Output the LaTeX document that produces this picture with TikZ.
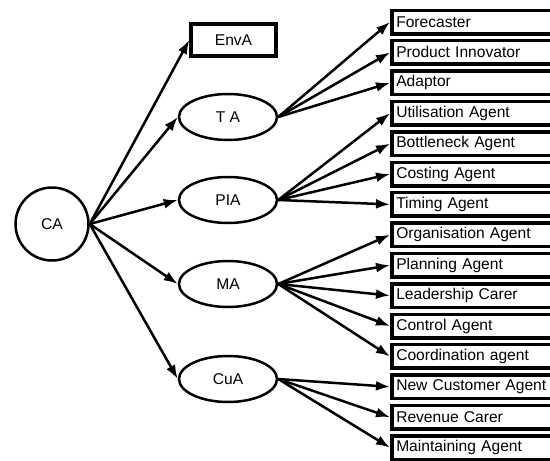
\documentclass[tikz,border=0pt]{standalone}
\usepackage{fontspec}
\setmainfont{Liberation Sans}
\usetikzlibrary{positioning, arrows, arrows.meta, shapes.geometric}

\begin{document}
\begin{tikzpicture}[x=1pt, y=-1pt, >={Latex[length=14pt,width=10pt]},
    every node/.style={font=\fontsize{15.6}{18}\selectfont},
    agent/.style={draw, ellipse, line width=2.5pt, minimum width=98pt,
        minimum height=46pt, inner sep=0pt},
    task/.style={draw, line width=3.5pt, text width=160pt, align=left,
        minimum height=23.5pt, inner xsep=4.5pt, inner ysep=2pt},
    link/.style={->, line width=2.5pt}]
\useasboundingbox (0,0) rectangle (550,461);
\clip (0,0) rectangle (550,461);

\node[circle, draw, line width=2.5pt, minimum size=73pt, inner sep=0pt] (ca) at (52,224) {CA};
\node[draw, line width=3.5pt, minimum width=85pt, minimum height=32pt] (enva) at (233.5,40) {EnvA};
\node[agent] (ta) at (228,117) {T A};
\node[agent] (pia) at (228,200) {PIA};
\node[agent] (ma) at (228,284) {MA};
\node[agent] (cua) at (228,379) {CuA};

\node[task, anchor=west] (fc) at (390,22) {Forecaster};
\node[task, below=3.4pt of fc] (pinn) {Product Innovator};
\node[task, below=3.4pt of pinn] (adp) {Adaptor};
\node[task, below=3.4pt of adp] (util) {Utilisation Agent};
\node[task, below=3.4pt of util] (bott) {Bottleneck Agent};
\node[task, below=3.4pt of bott] (cost) {Costing Agent};
\node[task, below=3.4pt of cost] (tim) {Timing Agent};
\node[task, below=3.4pt of tim] (org) {Organisation Agent};
\node[task, below=3.4pt of org] (plan) {Planning Agent};
\node[task, below=3.4pt of plan] (lead) {Leadership Carer};
\node[task, below=3.4pt of lead] (ctrl) {Control Agent};
\node[task, below=3.4pt of ctrl] (coord) {Coordination agent};
\node[task, below=3.4pt of coord] (newc) {New Customer Agent};
\node[task, below=3.4pt of newc] (rev) {Revenue Carer};
\node[task, below=3.4pt of rev] (maint) {Maintaining Agent};

\draw
    (ca.east) edge[link] (enva.west)
    (ca.east) edge[link] (ta.west)
    (ca.east) edge[link] (pia.west)
    (ca.east) edge[link] (ma.west)
    (ca.east) edge[link] (cua.west);
\draw
    (ta.east) edge[link] (fc.west)
    (ta.east) edge[link] (pinn.west)
    (ta.east) edge[link] (adp.west);
\draw
    (pia.east) edge[link] (util.west)
    (pia.east) edge[link] (bott.west)
    (pia.east) edge[link] (cost.west)
    (pia.east) edge[link] (tim.west);
\draw
    (ma.east) edge[link] (org.west)
    (ma.east) edge[link] (plan.west)
    (ma.east) edge[link] (lead.west)
    (ma.east) edge[link] (ctrl.west)
    (ma.east) edge[link] (coord.west);
\draw
    (cua.east) edge[link] (newc.west)
    (cua.east) edge[link] (rev.west)
    (cua.east) edge[link] (maint.west);
\end{tikzpicture}
\end{document}
